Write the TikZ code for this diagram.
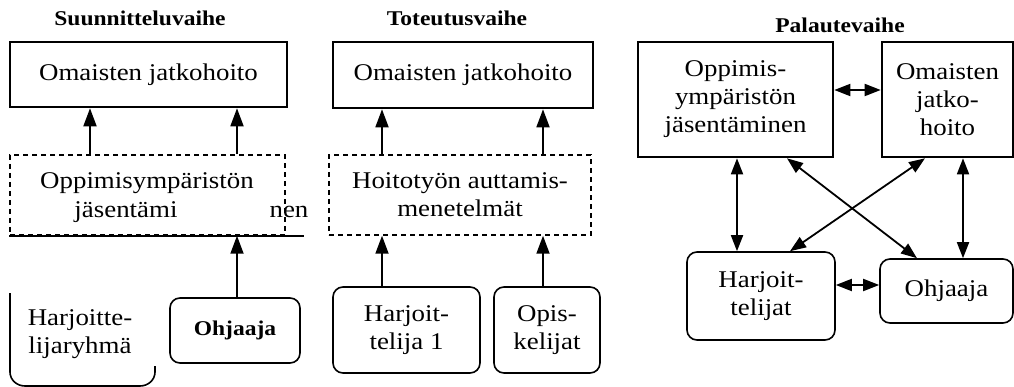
\documentclass[tikz,border=0pt]{standalone}
\usepackage{fontspec}
\setmainfont[FakeStretch=1.12]{Liberation Serif}
\usetikzlibrary{arrows.meta,calc}
\begin{document}
\begin{tikzpicture}[x=1pt,y=-1pt,
  txt/.style={font=\fontsize{24}{28}\selectfont, align=center, inner sep=0pt},
  ttl/.style={font=\fontsize{21}{24}\selectfont\bfseries, inner sep=0pt},
  hardbox/.style={draw, line width=2.6pt, txt},
  dashbox/.style={draw, line width=1.5pt, dash pattern=on 5pt off 4pt, txt},
  softbox/.style={draw, line width=1.6pt, rounded corners=10pt, txt},
  arr/.style={line width=1.8pt, -{Triangle[length=18pt,width=13pt]}},
  dbl/.style={line width=1.8pt, {Triangle[length=16pt,width=12pt]}-{Triangle[length=16pt,width=12pt]}}]
\useasboundingbox (0,0) rectangle (1014,387);

% ---------- Suunnitteluvaihe ----------
\node[ttl] (t1) at (140,18) {Suunnitteluvaihe};
\node[hardbox, minimum width=277pt, minimum height=65pt] (s1top) at (148.5,74.5) {Omaisten jatkohoito};
\node[dashbox, minimum width=275pt, minimum height=80pt] (s1mid) at (147.5,195) {};
\node[txt] (s1l1) at (147,183) {Oppimisympäristön};
\node[txt] (s1l2) at (126,212) {jäsentämi};
\node[txt] (s1l3) at (289,212) {nen};
\draw[line width=1.6pt] (s1mid.south west) -- ++(295,0) coordinate (s1end);
\node[softbox, minimum width=130pt, minimum height=65pt, font=\fontsize{21}{28}\selectfont\bfseries] (s1ohj) at (235,330.5) {Ohjaaja};
\node[txt] (s1harj) at (80,334) {Harjoitte-\\lijaryhmä};
\draw[line width=1.6pt] (10,293) -- (10,372) to[out=-90,in=180] (25,386) -- (140,386) to[out=0,in=-90] (155,372) -- (155,366);

\coordinate (xa) at (90,0);
\coordinate (xb) at (237,0);
\draw[arr] (s1mid.north -| xa) -- (s1top.south -| xa);
\draw[arr] (s1mid.north -| xb) -- (s1top.south -| xb);
\draw[arr] (s1ohj.north -| xb) -- (s1mid.south -| xb);

% ---------- Toteutusvaihe ----------
\node[ttl] (t2) at (457,18) {Toteutusvaihe};
\node[hardbox, minimum width=260pt, minimum height=66pt] (s2top) at (463,75) {Omaisten jatkohoito};
\node[dashbox, minimum width=262pt, minimum height=80pt] (s2mid) at (460,195) {Hoitotyön auttamis-\\menetelmät};
\node[softbox, minimum width=147pt, minimum height=86pt] (s2harj) at (406.5,330) {Harjoit-\\telija 1};
\node[softbox, minimum width=106pt, minimum height=86pt] (s2opis) at (547,330) {Opis-\\kelijat};

\coordinate (xc) at (382,0);
\coordinate (xd) at (543,0);
\draw[arr] (s2mid.north -| xc) -- (s2top.south -| xc);
\draw[arr] (s2mid.north -| xd) -- (s2top.south -| xd);
\draw[arr] (s2harj.north -| xc) -- (s2mid.south -| xc);
\draw[arr] (s2opis.north -| xd) -- (s2mid.south -| xd);

% ---------- Palautevaihe ----------
\node[ttl] (t3) at (840,25) {Palautevaihe};
\node[hardbox, minimum width=195pt, minimum height=115pt] (s3opp) at (735.5,99.5) {Oppimis-\\ympäristön\\jäsentäminen};
\node[hardbox, minimum width=131pt, minimum height=115pt] (s3oma) at (947.5,99.5) {Omaisten\\jatko-\\hoito};
\node[softbox, minimum width=148pt, minimum height=88pt] (s3harj) at (761,296) {Harjoit-\\telijat};
\node[softbox, minimum width=133pt, minimum height=64pt] (s3ohj) at (946.5,291) {Ohjaaja};

\coordinate (ya) at (0,90);
\coordinate (yb) at (0,285);
\coordinate (xe) at (737,0);
\coordinate (xf) at (963,0);
\coordinate (xg) at (787,0);
\coordinate (xh) at (917,0);
\coordinate (xi) at (925,0);
\coordinate (xj) at (790,0);
\draw[dbl] (s3opp.east |- ya) -- (s3oma.west |- ya);
\draw[dbl] (s3harj.east |- yb) -- (s3ohj.west |- yb);
\draw[dbl] (s3opp.south -| xe) -- (s3harj.north -| xe);
\draw[dbl] (s3oma.south -| xf) -- (s3ohj.north -| xf);
\draw[dbl] (s3opp.south -| xg) -- (s3ohj.north -| xh);
\draw[dbl] (s3oma.south -| xi) -- (s3harj.north -| xj);
\end{tikzpicture}
\end{document}
